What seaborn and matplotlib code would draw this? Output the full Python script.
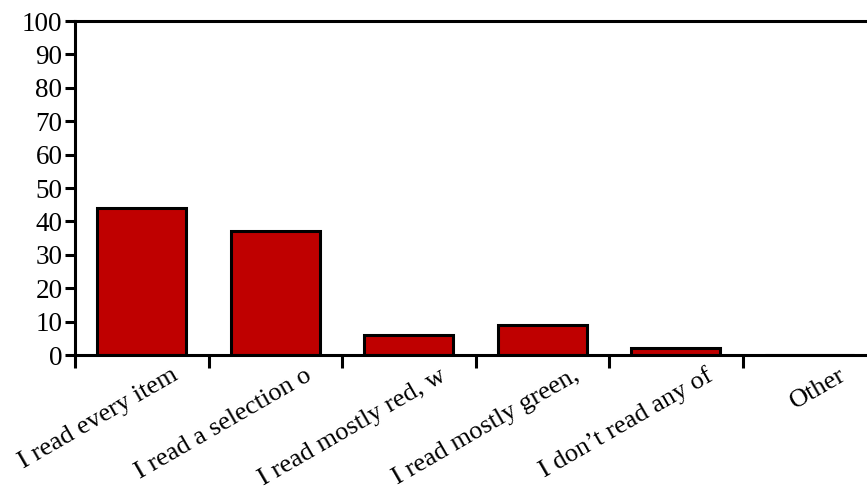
import matplotlib
matplotlib.use("Agg")
import matplotlib.pyplot as plt
import matplotlib.transforms as mtransforms
import seaborn as sns
import numpy as np

categories = ["I read every item", "I read a selection o", "I read mostly red, w",
              "I read mostly green,", "I don\u2019t read any of", "Other"]
values = [44, 37, 6, 9, 2, 0]
y_ticks = list(range(0, 101, 10))

sns.set_style("white")
plt.rcParams['font.family'] = ['Liberation Serif', 'DejaVu Serif']
plt.rcParams['text.color'] = 'black'
plt.rcParams['xtick.color'] = 'black'
plt.rcParams['ytick.color'] = 'black'

fig = plt.figure(figsize=(8.67, 4.9), dpi=100)
# axes runs a bit past the right edge, like the original
ax = fig.add_axes([75 / 867, 1 - 355 / 490, 801 / 867, (355 - 21) / 490])

sns.barplot(x=categories, y=values, color="#bf0000", saturation=1,
            edgecolor="black", linewidth=2.2, width=0.67, ax=ax)

ax.set_xlim(-0.5, len(categories) - 0.5)
ax.set_ylim(0, 100)
ax.set_yticks(y_ticks)
ax.set_yticklabels([str(t) for t in y_ticks], fontsize=19.5, color="black")

# ticks sit between categories, labels on the centres
ax.set_xticks(np.arange(len(categories)) - 0.5)
ax.set_xticklabels([])
ax.set_xticks(np.arange(len(categories)), minor=True)
ax.set_xticklabels(categories, minor=True, fontsize=19, rotation=30, color="black",
                   ha="right", va="center", rotation_mode="anchor")
ax.tick_params(axis="x", which="major", direction="out", length=9, width=2.2, color="black", bottom=True)
ax.tick_params(axis="x", which="minor", length=0, pad=0)
ax.tick_params(axis="y", direction="out", length=7, width=2.2, color="black", left=True, pad=2)

offset = mtransforms.ScaledTranslation(35 / 100, -19 / 100, fig.dpi_scale_trans)
for lbl in ax.get_xticklabels(minor=True):
    lbl.set_transform(lbl.get_transform() + offset)

for side in ["left", "bottom", "top"]:
    ax.spines[side].set_visible(True)
    ax.spines[side].set_linewidth(2.2)
    ax.spines[side].set_color("black")
ax.spines["right"].set_visible(False)
ax.set_xlabel("")
ax.set_ylabel("")

fig.savefig("out.png", dpi=100)
